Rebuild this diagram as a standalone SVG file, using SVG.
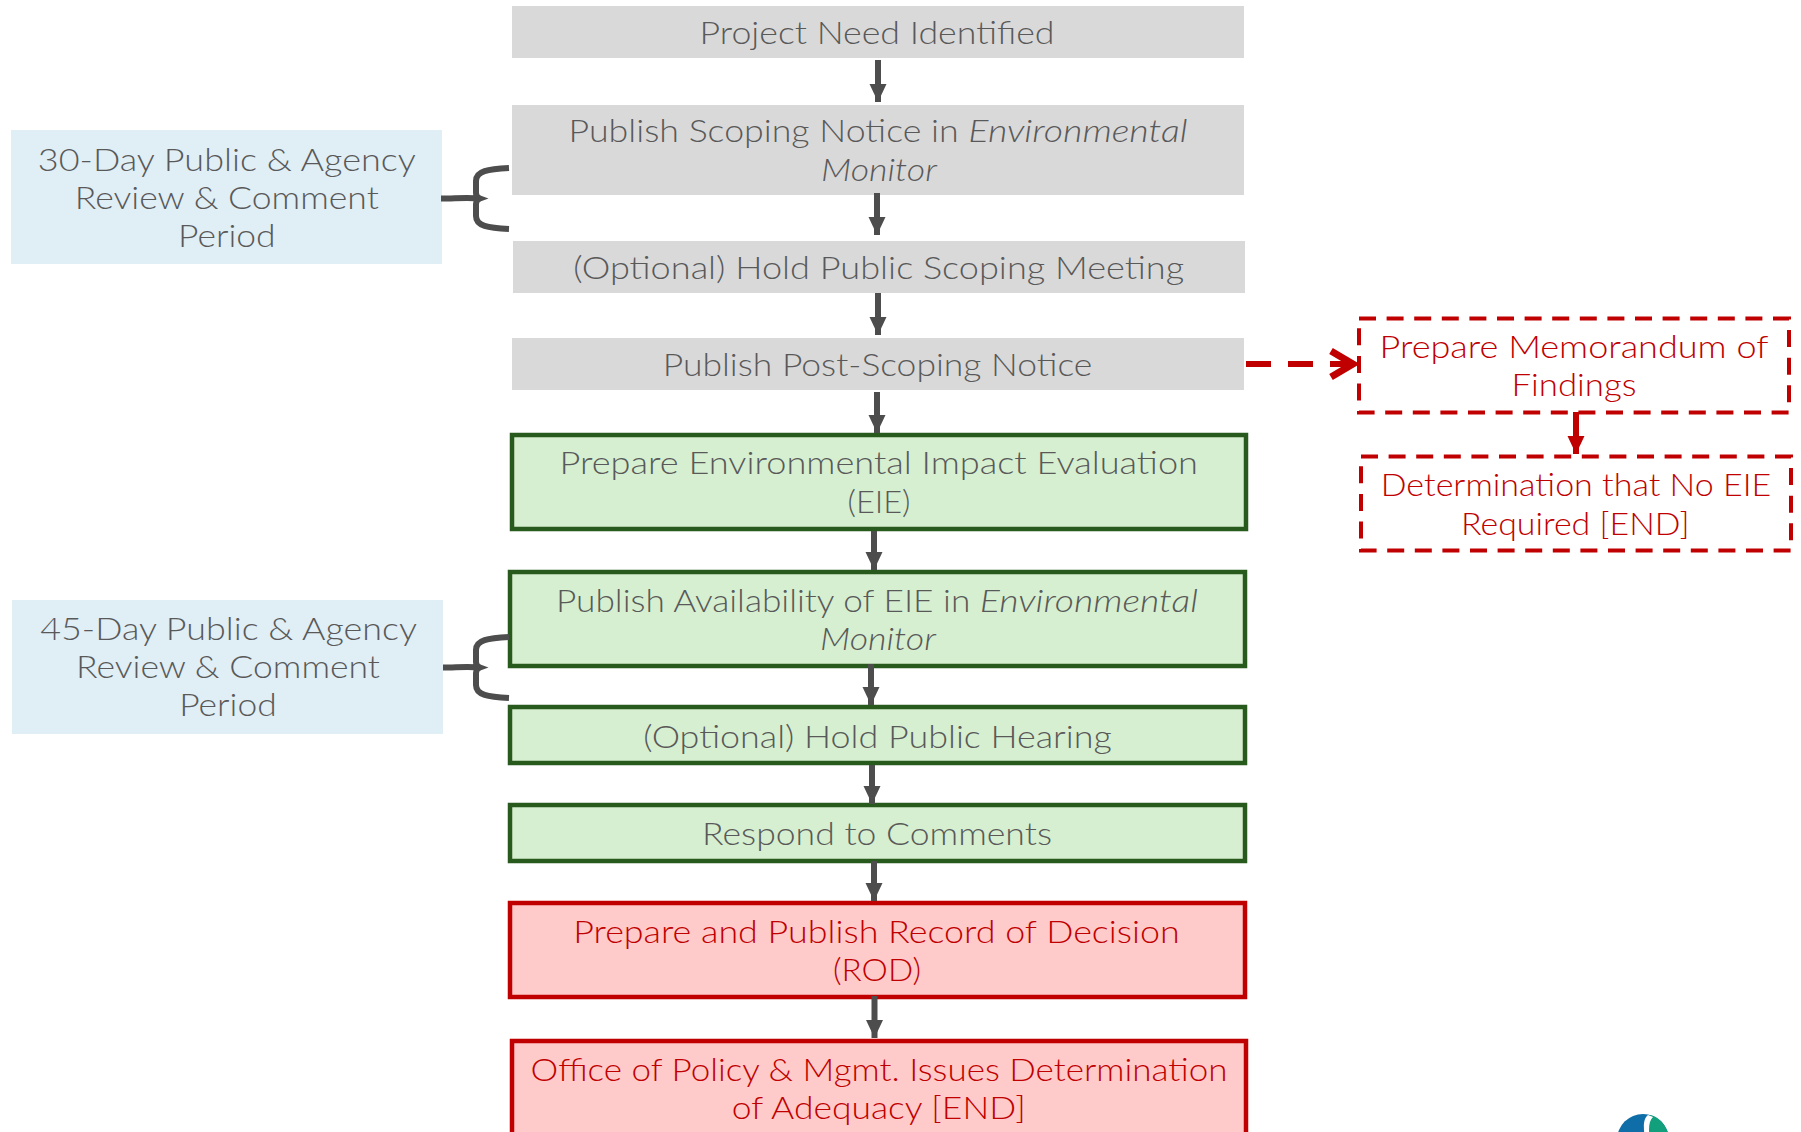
<svg xmlns="http://www.w3.org/2000/svg" width="1801" height="1132" viewBox="0 0 1801 1132">
<style>
text{font-family:"Lato","Open Sans","Liberation Sans",sans-serif;font-weight:300;font-size:32px;text-anchor:middle;fill:#595959}
text.r{fill:#C00000}
text.st{text-anchor:start}
.it{font-style:italic}
.grey{fill:#D9D9D9}
.side{fill:#E0EEF5}
.green{fill:#D6EFD0;stroke:#285A1E;stroke-width:4.5}
.pink{fill:#FFCACA;stroke:#C00000;stroke-width:4.5}
.dash{fill:#fff;stroke:#C00000;stroke-width:4;stroke-dasharray:17 10.6}
.flow{fill:none;stroke:#4D4D4D;stroke-width:6}
.brace{fill:none;stroke:#4D4D4D;stroke-width:6;stroke-linecap:butt}
</style>
<defs>
<marker id="ah" markerUnits="userSpaceOnUse" markerWidth="18" markerHeight="18" refX="18" refY="9" orient="auto"><path d="M0 0.5L18 9L0 17.500Z" fill="#4D4D4D"/></marker>
<marker id="rh" markerUnits="userSpaceOnUse" markerWidth="18" markerHeight="18" refX="18" refY="9" orient="auto"><path d="M0 0.5L18 9L0 17.500Z" fill="#C00000"/></marker>
<marker id="ro" markerUnits="userSpaceOnUse" markerWidth="32" markerHeight="36" refX="28" refY="18" orient="auto"><path d="M4 5L26 18L4 31" fill="none" stroke="#C00000" stroke-width="7"/></marker>
</defs>
<g id="n1"><rect class="grey" x="512" y="6" width="732" height="52"/><text lengthAdjust="spacingAndGlyphs" x="877" y="44" textLength="355">Project Need Identified</text></g>
<g id="n2"><rect class="grey" x="512" y="105" width="732" height="90"/><text class="st" x="568.600" y="142"><tspan lengthAdjust="spacingAndGlyphs" textLength="399.700">Publish Scoping Notice in </tspan><tspan class="it" lengthAdjust="spacingAndGlyphs" textLength="219.400">Environmental</tspan></text><text lengthAdjust="spacingAndGlyphs" class="it" x="879" y="181" textLength="116">Monitor</text></g>
<g id="n3"><rect class="grey" x="513" y="241" width="732" height="52"/><text lengthAdjust="spacingAndGlyphs" x="878.7" y="279" textLength="611">(Optional) Hold Public Scoping Meeting</text></g>
<g id="n4"><rect class="grey" x="512" y="338" width="732" height="52"/><text lengthAdjust="spacingAndGlyphs" x="877.5" y="376" textLength="429.6">Publish Post-Scoping Notice</text></g>
<g id="n5"><rect class="green" x="512" y="435" width="734" height="94"/><text lengthAdjust="spacingAndGlyphs" x="878.7" y="474" textLength="638.6">Prepare Environmental Impact Evaluation</text><text lengthAdjust="spacingAndGlyphs" x="879" y="513" textLength="63">(EIE)</text></g>
<g id="n6"><rect class="green" x="510" y="572" width="735" height="94"/><text class="st" x="556" y="612"><tspan lengthAdjust="spacingAndGlyphs" textLength="423.800">Publish Availability of EIE in </tspan><tspan class="it" lengthAdjust="spacingAndGlyphs" textLength="218.200">Environmental</tspan></text><text lengthAdjust="spacingAndGlyphs" class="it" x="878" y="650" textLength="116">Monitor</text></g>
<g id="n7"><rect class="green" x="510" y="707" width="735" height="56"/><text lengthAdjust="spacingAndGlyphs" x="877.5" y="748" textLength="468.6">(Optional) Hold Public Hearing</text></g>
<g id="n8"><rect class="green" x="510" y="805" width="735" height="56"/><text lengthAdjust="spacingAndGlyphs" x="877" y="845" textLength="350">Respond to Comments</text></g>
<g id="n9"><rect class="pink" x="510" y="903" width="735" height="94"/><text lengthAdjust="spacingAndGlyphs" class="r" x="876.4" y="943" textLength="606.5">Prepare and Publish Record of Decision</text><text lengthAdjust="spacingAndGlyphs" class="r" x="877" y="981" textLength="88">(ROD)</text></g>
<g id="n10"><rect class="pink" x="512" y="1041" width="734" height="110"/><text lengthAdjust="spacingAndGlyphs" class="r" x="879" y="1081" textLength="697">Office of Policy &amp; Mgmt. Issues Determination</text><text lengthAdjust="spacingAndGlyphs" class="r" x="878.7" y="1119" textLength="294">of Adequacy [END]</text></g>
<g id="s1"><rect class="side" x="11" y="130" width="431" height="134"/><text lengthAdjust="spacingAndGlyphs" x="226.8" y="171" textLength="378">30-Day Public &amp; Agency</text><text lengthAdjust="spacingAndGlyphs" x="226.8" y="209" textLength="304">Review &amp; Comment</text><text lengthAdjust="spacingAndGlyphs" x="226.8" y="247" textLength="97.6">Period</text></g>
<g id="s2"><rect class="side" x="12" y="600" width="431" height="134"/><text lengthAdjust="spacingAndGlyphs" x="228.6" y="640" textLength="376.7">45-Day Public &amp; Agency</text><text lengthAdjust="spacingAndGlyphs" x="228" y="678" textLength="304">Review &amp; Comment</text><text lengthAdjust="spacingAndGlyphs" x="228" y="716" textLength="97.6">Period</text></g>
<g id="m1"><rect class="dash" x="1359" y="318.500" width="430" height="94"/><text lengthAdjust="spacingAndGlyphs" class="r" x="1574" y="358" textLength="389">Prepare Memorandum of</text><text lengthAdjust="spacingAndGlyphs" class="r" x="1574" y="396" textLength="125">Findings</text></g>
<g id="m2"><rect class="dash" x="1361" y="456.500" width="430" height="94"/><text lengthAdjust="spacingAndGlyphs" class="r" x="1576" y="496" textLength="390.500">Determination that No EIE</text><text lengthAdjust="spacingAndGlyphs" class="r" x="1575.300" y="535" textLength="228.600">Required [END]</text></g>
<g id="connectors">
<line class="flow" x1="878" y1="60" x2="878" y2="102" marker-end="url(#ah)"/>
<line class="flow" x1="877" y1="193" x2="877" y2="235" marker-end="url(#ah)"/>
<line class="flow" x1="878" y1="293" x2="878" y2="335" marker-end="url(#ah)"/>
<line class="flow" x1="877" y1="392" x2="877" y2="433" marker-end="url(#ah)"/>
<line class="flow" x1="874" y1="531" x2="874" y2="570" marker-end="url(#ah)"/>
<line class="flow" x1="871" y1="664" x2="871" y2="705" marker-end="url(#ah)"/>
<line class="flow" x1="872" y1="765" x2="872" y2="804" marker-end="url(#ah)"/>
<line class="flow" x1="874" y1="861" x2="874" y2="901" marker-end="url(#ah)"/>
<line class="flow" x1="874.500" y1="996" x2="874.500" y2="1038" marker-end="url(#ah)"/>
<line x1="1576" y1="412" x2="1576" y2="454" fill="none" stroke="#C00000" stroke-width="6" marker-end="url(#rh)"/>
<line x1="1246" y1="364" x2="1355" y2="364" fill="none" stroke="#C00000" stroke-width="6" stroke-dasharray="25 17" marker-end="url(#ro)"/>
<path class="brace" d="M441 198.500C455 198.500 468 197 480 198.500M509 168C488 169 476 171 476 181L476 193Q476 197 480 198.500Q476 200 476 204L476 216C476 226 488 228 509 229"/>
<path class="brace" d="M443 667.500C456 667.500 468 666 480 667.500M509 637C488 638 476 640 476 650L476 662Q476 666 480 667.500Q476 669 476 673L476 685C476 695 488 697 509 698"/>
</g>
<g id="logo"><circle cx="1643" cy="1140" r="26" fill="#0F6DA8"/><path d="M1650 1115C1660 1117 1669 1128 1669 1140L1650 1140C1647 1130 1650 1122 1650 1115Z" fill="#12A07C"/><path d="M1648 1115C1642 1120 1644 1130 1645 1140L1650 1140C1648 1128 1649 1121 1653 1117Z" fill="#fff"/></g>
</svg>
